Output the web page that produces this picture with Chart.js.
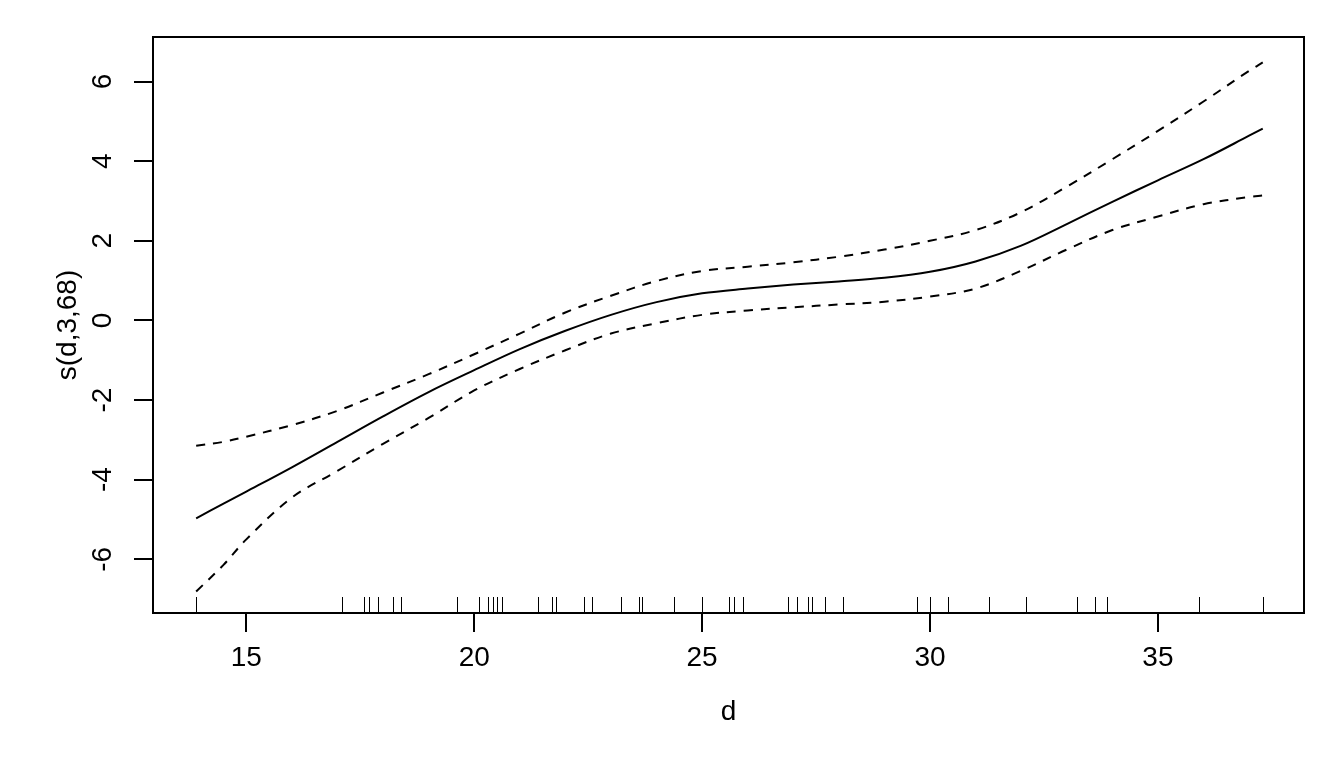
<!DOCTYPE html>
<html>
<head>
<meta charset="utf-8">
<script src="https://cdn.jsdelivr.net/npm/chart.js@4/dist/chart.umd.min.js"></script>
<style>
  html, body { margin: 0; padding: 0; background: #fff; }
  #wrap { width: 1344px; height: 768px; }
</style>
</head>
<body>
<div id="wrap"><canvas id="chart" width="1344" height="768"></canvas></div>
<script>
// smooth term s(d,3,68) and its +/- 2 se bands
const dGrid = [13.9, 14.5, 15, 16, 17, 18, 19, 20, 21, 22, 23, 24, 25, 26, 27, 28, 29, 30, 31, 32, 33, 34, 35, 36, 37, 37.3];
const fit   = [-4.97, -4.60, -4.30, -3.69, -3.05, -2.41, -1.80, -1.25, -0.72, -0.26, 0.14, 0.46, 0.68, 0.80, 0.90, 0.98, 1.07, 1.22, 1.48, 1.88, 2.42, 2.98, 3.52, 4.05, 4.64, 4.82];
const upper = [-3.15, -3.05, -2.92, -2.63, -2.27, -1.81, -1.35, -0.85, -0.33, 0.20, 0.62, 0.99, 1.24, 1.35, 1.46, 1.60, 1.78, 2.00, 2.27, 2.72, 3.36, 4.05, 4.76, 5.50, 6.27, 6.48];
const lower = [-6.81, -6.14, -5.50, -4.45, -3.78, -3.10, -2.45, -1.76, -1.22, -0.75, -0.33, -0.07, 0.14, 0.25, 0.33, 0.40, 0.47, 0.60, 0.80, 1.25, 1.78, 2.27, 2.61, 2.92, 3.10, 3.14];

// observed d values (rug)
const rugX = [13.9, 17.11, 17.59, 17.69, 17.9, 18.21, 18.39, 19.62, 20.1, 20.31, 20.41, 20.5, 20.6, 21.41,
  21.7, 21.8, 22.4, 22.59, 23.21, 23.61, 23.68, 24.39, 25.0, 25.6, 25.71, 25.9, 26.89, 27.09, 27.32, 27.4,
  27.7, 28.1, 29.71, 30.0, 30.4, 31.3, 32.1, 33.22, 33.61, 33.89, 35.91, 37.3];

const xTicks = [15, 20, 25, 30, 35];
const yTicks = [-6, -4, -2, 0, 2, 4, 6];
const xTitle = "d";
const yTitle = "s(d,3,68)";

const FONT = "'Liberation Sans', Arial, sans-serif";
const FONT_SIZE = 28;

function toPoints(ys) {
  return dGrid.map((x, i) => ({ x: x, y: ys[i] }));
}

// box, rug, rotated y labels and axis titles in base-R style
const rPlotExtras = {
  id: "rPlotExtras",
  afterDraw(chart) {
    const ctx = chart.ctx;
    const a = chart.chartArea;
    const xs = chart.scales.x;
    const ys = chart.scales.y;
    ctx.save();
    ctx.strokeStyle = "#000";

    // rug
    ctx.lineWidth = 1;
    rugX.forEach(v => {
      const px = Math.round(xs.getPixelForValue(v)) + 0.5;
      ctx.beginPath();
      ctx.moveTo(px, a.bottom);
      ctx.lineTo(px, a.bottom - 16);
      ctx.stroke();
    });

    // frame
    ctx.lineWidth = 2;
    ctx.strokeRect(a.left, a.top, a.right - a.left, a.bottom - a.top);

    ctx.fillStyle = "#000";
    ctx.font = FONT_SIZE + "px " + FONT;
    ctx.textAlign = "center";
    ctx.textBaseline = "middle";

    // y tick labels, parallel to the axis
    yTicks.forEach(v => {
      ctx.save();
      ctx.translate(103, ys.getPixelForValue(v));
      ctx.rotate(-Math.PI / 2);
      ctx.fillText(String(v), 0, 0);
      ctx.restore();
    });

    // axis titles
    ctx.fillText(xTitle, (a.left + a.right) / 2, 712);
    ctx.save();
    ctx.translate(68, (a.top + a.bottom) / 2);
    ctx.rotate(-Math.PI / 2);
    ctx.fillText(yTitle, 0, 0);
    ctx.restore();

    ctx.restore();
  }
};

const lineStyle = {
  borderColor: "#000",
  borderWidth: 2,
  pointRadius: 0,
  fill: false,
  tension: 0.35
};

new Chart(document.getElementById("chart"), {
  type: "line",
  data: {
    datasets: [
      Object.assign({ label: "fit", data: toPoints(fit) }, lineStyle),
      Object.assign({ label: "upper", data: toPoints(upper), borderDash: [9, 8] }, lineStyle),
      Object.assign({ label: "lower", data: toPoints(lower), borderDash: [9, 8] }, lineStyle)
    ]
  },
  options: {
    responsive: false,
    animation: false,
    devicePixelRatio: 1,
    layout: { padding: { top: 37, right: 40, left: 0, bottom: 0 } },
    plugins: {
      legend: { display: false },
      tooltip: { enabled: false }
    },
    scales: {
      x: {
        type: "linear",
        min: 12.953,
        max: 38.205,
        afterBuildTicks: s => { s.ticks = xTicks.map(v => ({ value: v })); },
        afterFit: s => { s.height = 155; },
        border: { display: false },
        grid: { drawOnChartArea: false, drawTicks: true, tickLength: 19, lineWidth: 2, color: "#000" },
        ticks: { color: "#000", padding: 9, maxRotation: 0, font: { family: FONT, size: FONT_SIZE } }
      },
      y: {
        type: "linear",
        min: -7.35,
        max: 7.12,
        afterBuildTicks: s => { s.ticks = yTicks.map(v => ({ value: v })); },
        afterFit: s => { s.width = 153; },
        border: { display: false },
        grid: { drawOnChartArea: false, drawTicks: true, tickLength: 19, lineWidth: 2, color: "#000" },
        ticks: { display: false }
      }
    }
  },
  plugins: [rPlotExtras]
});
</script>
</body>
</html>
